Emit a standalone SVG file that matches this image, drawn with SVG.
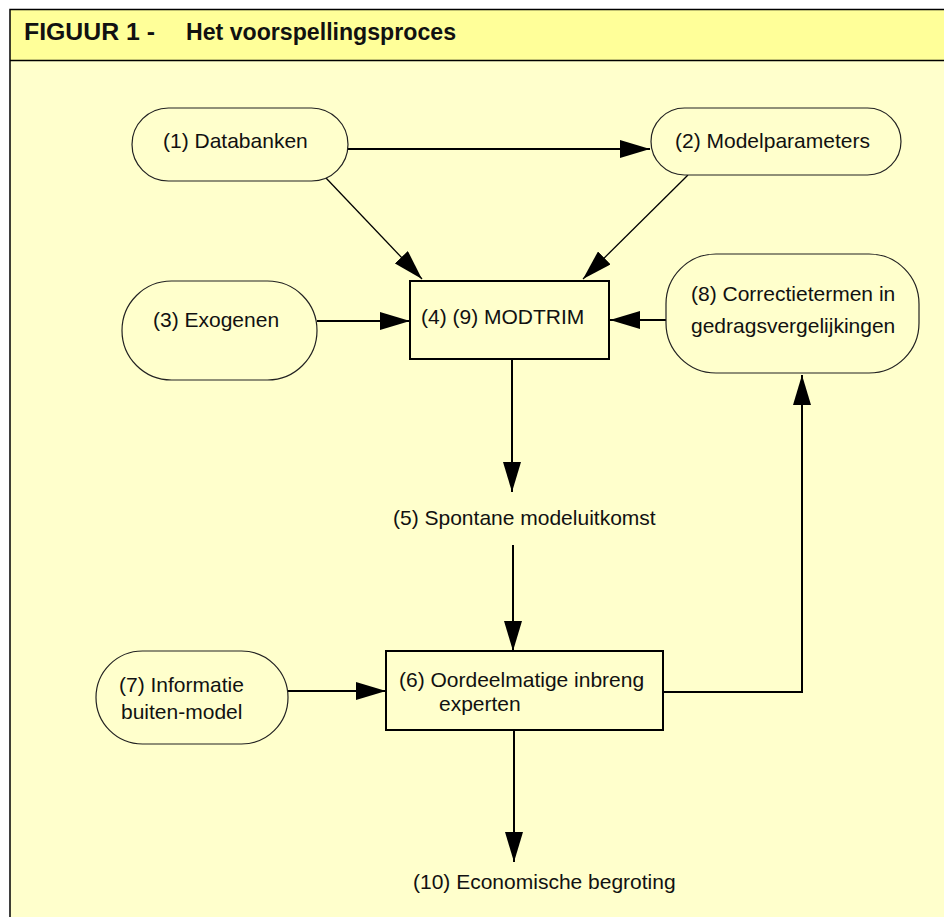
<svg xmlns="http://www.w3.org/2000/svg" width="944" height="917" viewBox="0 0 944 917">
<style>
.frame{stroke:#000;stroke-width:1.5;fill:none}
.pill{fill:#FFFFCC;stroke:#222;stroke-width:1.2}
.box{fill:#FFFFCC;stroke:#000;stroke-width:2}
.t{font-family:"Liberation Sans",Arial,sans-serif;font-size:21px;fill:#111}
.title{font-family:"Liberation Sans",Arial,sans-serif;font-size:23.5px;font-weight:bold;fill:#111}
.c{stroke:#000;fill:none}
.thick{stroke-width:2}
.thin{stroke-width:1.3}
</style>
<defs>
<marker id="ah" markerUnits="userSpaceOnUse" markerWidth="30" markerHeight="18" refX="30" refY="9" orient="auto">
<path d="M0,0 L30,9 L0,18 z" fill="#000"/>
</marker>
</defs>
<rect x="0" y="0" width="944" height="917" fill="#fff"/>
<rect x="10" y="9.5" width="934" height="907.5" fill="#FFFFCC"/>
<rect x="10" y="9.5" width="934" height="51" fill="#FFFF99"/>
<path class="frame" d="M944,9.5 H10 V917 M10,60.5 H944"/>
<g id="title">
<text class="title" x="24" y="40" textLength="131" lengthAdjust="spacingAndGlyphs">FIGUUR 1 -</text>
<text class="title" x="186" y="40" textLength="270" lengthAdjust="spacingAndGlyphs">Het voorspellingsproces</text>
</g>
<g id="connectors">
<path class="c thick" d="M348,149 H650" marker-end="url(#ah)"/>
<path class="c thin" d="M326,178 L422,279" marker-end="url(#ah)"/>
<path class="c thin" d="M688,175 L583,279" marker-end="url(#ah)"/>
<path class="c thick" d="M317,321 H410" marker-end="url(#ah)"/>
<path class="c thick" d="M666,320 H610" marker-end="url(#ah)"/>
<path class="c thick" d="M512,359 V492" marker-end="url(#ah)"/>
<path class="c thick" d="M513,545 V651" marker-end="url(#ah)"/>
<path class="c thick" d="M288,691 H386" marker-end="url(#ah)"/>
<path class="c thick" d="M663,692 H802 V375" marker-end="url(#ah)"/>
<path class="c thick" d="M514,730 V862" marker-end="url(#ah)"/>
</g>
<g id="n1">
<rect class="pill" x="132" y="108" width="216" height="73" rx="36.5"/>
<text class="t" x="163" y="148">(1) Databanken</text>
</g>
<g id="n2">
<rect class="pill" x="651" y="108" width="250" height="67" rx="33.5"/>
<text class="t" x="675" y="148">(2) Modelparameters</text>
</g>
<g id="n3">
<rect class="pill" x="122" y="281" width="195" height="99" rx="49.5"/>
<text class="t" x="153" y="327">(3) Exogenen</text>
</g>
<g id="n4">
<rect class="box" x="410" y="281" width="199" height="78"/>
<text class="t" x="421" y="324">(4) (9) MODTRIM</text>
</g>
<g id="n8">
<rect class="pill" x="666" y="254" width="253" height="119" rx="50"/>
<text class="t" x="691" y="301">(8) Correctietermen in</text>
<text class="t" x="691" y="333">gedragsvergelijkingen</text>
</g>
<g id="n5">
<text class="t" x="393" y="525">(5) Spontane modeluitkomst</text>
</g>
<g id="n6">
<rect class="box" x="386" y="651" width="277" height="79"/>
<text class="t" x="399" y="687">(6) Oordeelmatige inbreng</text>
<text class="t" x="439" y="711">experten</text>
</g>
<g id="n7">
<rect class="pill" x="96" y="651" width="192" height="93" rx="46.5"/>
<text class="t" x="119" y="692">(7) Informatie</text>
<text class="t" x="121" y="719">buiten-model</text>
</g>
<g id="n10">
<text class="t" x="413" y="889">(10) Economische begroting</text>
</g>
</svg>
